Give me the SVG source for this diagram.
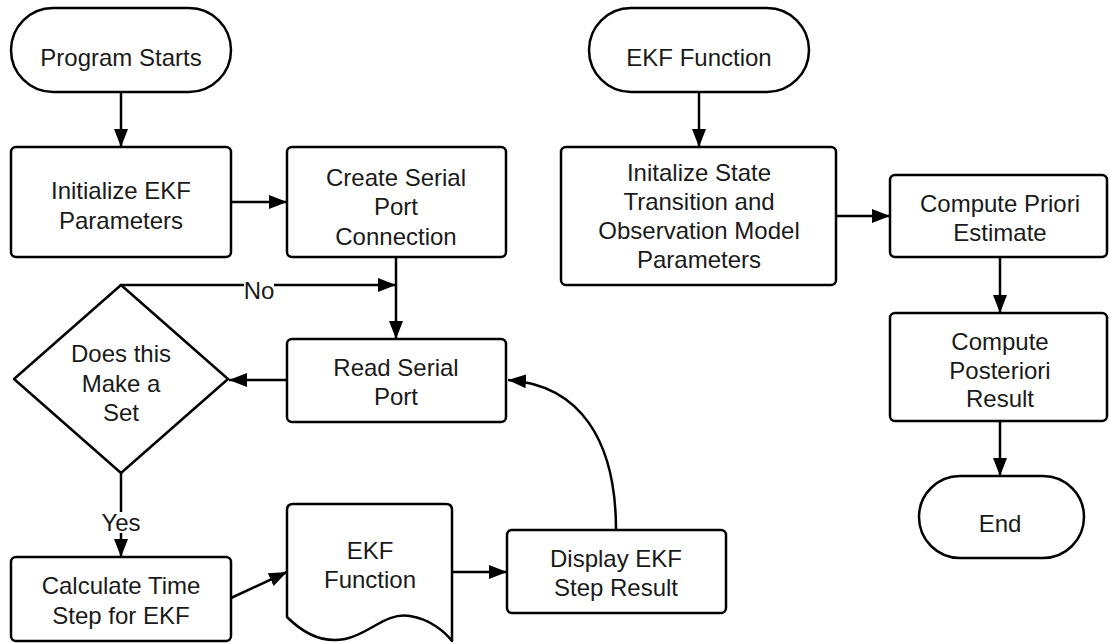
<svg xmlns="http://www.w3.org/2000/svg" width="1109" height="643" viewBox="0 0 1109 643">
<defs>
<style>
.n{fill:#fff;stroke:#000;stroke-width:2.5;stroke-linejoin:round}
.t{font-family:"Liberation Sans",Arial,sans-serif;font-size:24px;fill:#1a1a1a;text-anchor:middle}
.c{fill:none;stroke:#000;stroke-width:2.5}
</style>
<marker id="ah" markerUnits="userSpaceOnUse" markerWidth="18" markerHeight="14" refX="18" refY="7" orient="auto">
<path d="M0,0 L18,7 L0,14 Z" fill="#000"/>
</marker>
</defs>
<rect width="1109" height="643" fill="#fff"/>
<g id="connectors">
<line class="c" x1="121" y1="92" x2="121" y2="147" marker-end="url(#ah)"/>
<line class="c" x1="231" y1="202" x2="287" y2="202" marker-end="url(#ah)"/>
<line class="c" x1="396" y1="257" x2="396" y2="339" marker-end="url(#ah)"/>
<polyline class="c" points="121,286 121,285 396,285" marker-end="url(#ah)"/>
<line class="c" x1="287" y1="380" x2="229" y2="380" marker-end="url(#ah)"/>
<line class="c" x1="121" y1="473" x2="121" y2="557" marker-end="url(#ah)"/>
<line class="c" x1="231" y1="598" x2="287" y2="572" marker-end="url(#ah)"/>
<line class="c" x1="452" y1="572" x2="507" y2="572" marker-end="url(#ah)"/>
<path class="c" d="M616,530 C616,440 580,385 508,380" marker-end="url(#ah)"/>
<line class="c" x1="699" y1="92" x2="699" y2="147" marker-end="url(#ah)"/>
<line class="c" x1="836" y1="216" x2="890" y2="216" marker-end="url(#ah)"/>
<line class="c" x1="1000" y1="257" x2="1000" y2="313" marker-end="url(#ah)"/>
<line class="c" x1="1000" y1="421" x2="1000" y2="476" marker-end="url(#ah)"/>
<rect x="244" y="279" width="30" height="20" fill="#fff"/>
<text class="t" x="259" y="298.5">No</text>
<rect x="100" y="512" width="42" height="21" fill="#fff"/>
<text class="t" x="121" y="530.5">Yes</text>
</g>
<g id="program-starts">
<rect class="n" x="11" y="8" width="220" height="84" rx="42"/>
<text class="t" x="121" y="65.5">Program Starts</text>
</g>
<g id="init-ekf">
<rect class="n" x="11" y="147" width="220" height="110" rx="5"/>
<text class="t" x="121" y="198.5">Initialize EKF</text>
<text class="t" x="121" y="228.5">Parameters</text>
</g>
<g id="create-serial">
<rect class="n" x="287" y="147" width="219" height="110" rx="5"/>
<text class="t" x="396" y="185.5">Create Serial</text>
<text class="t" x="396" y="215">Port</text>
<text class="t" x="396" y="244.5">Connection</text>
</g>
<g id="decision">
<polygon class="n" points="121,285 228,379 121,473 14,379"/>
<text class="t" x="121" y="361.5">Does this</text>
<text class="t" x="121" y="391.5">Make a</text>
<text class="t" x="121" y="420.5">Set</text>
</g>
<g id="read-serial">
<rect class="n" x="287" y="339" width="219" height="83" rx="5"/>
<text class="t" x="396" y="375.5">Read Serial</text>
<text class="t" x="396" y="404.5">Port</text>
</g>
<g id="calc-time">
<rect class="n" x="11" y="557" width="220" height="84" rx="5"/>
<text class="t" x="121" y="593.5">Calculate Time</text>
<text class="t" x="121" y="623.5">Step for EKF</text>
</g>
<g id="ekf-doc">
<path class="n" d="M287,617 L287,510 Q287,504 293,504 L446,504 Q452,504 452,510 L452,641 C445,632 430,619 410,616 C385,612 370,634 345,639 C325,643 305,635 287,617 Z"/>
<text class="t" x="370" y="558.5">EKF</text>
<text class="t" x="370" y="587.5">Function</text>
</g>
<g id="display">
<rect class="n" x="507" y="530" width="219" height="83" rx="5"/>
<text class="t" x="616" y="566.5">Display EKF</text>
<text class="t" x="616" y="595.5">Step Result</text>
</g>
<g id="ekf-function">
<rect class="n" x="589" y="8" width="220" height="84" rx="42"/>
<text class="t" x="699" y="65.5">EKF Function</text>
</g>
<g id="init-state">
<rect class="n" x="561" y="147" width="275" height="138" rx="5"/>
<text class="t" x="699" y="180.5">Initalize State</text>
<text class="t" x="699" y="209.5">Transition and</text>
<text class="t" x="699" y="238.5">Observation Model</text>
<text class="t" x="699" y="268">Parameters</text>
</g>
<g id="priori">
<rect class="n" x="890" y="175" width="217" height="82" rx="5"/>
<text class="t" x="1000" y="211.5">Compute Priori</text>
<text class="t" x="1000" y="240.5">Estimate</text>
</g>
<g id="posteriori">
<rect class="n" x="890" y="313" width="217" height="108" rx="5"/>
<text class="t" x="1000" y="350">Compute</text>
<text class="t" x="1000" y="378.5">Posteriori</text>
<text class="t" x="1000" y="407">Result</text>
</g>
<g id="end">
<rect class="n" x="919" y="476" width="165" height="82" rx="41"/>
<text class="t" x="1000" y="531.5">End</text>
</g>
</svg>
